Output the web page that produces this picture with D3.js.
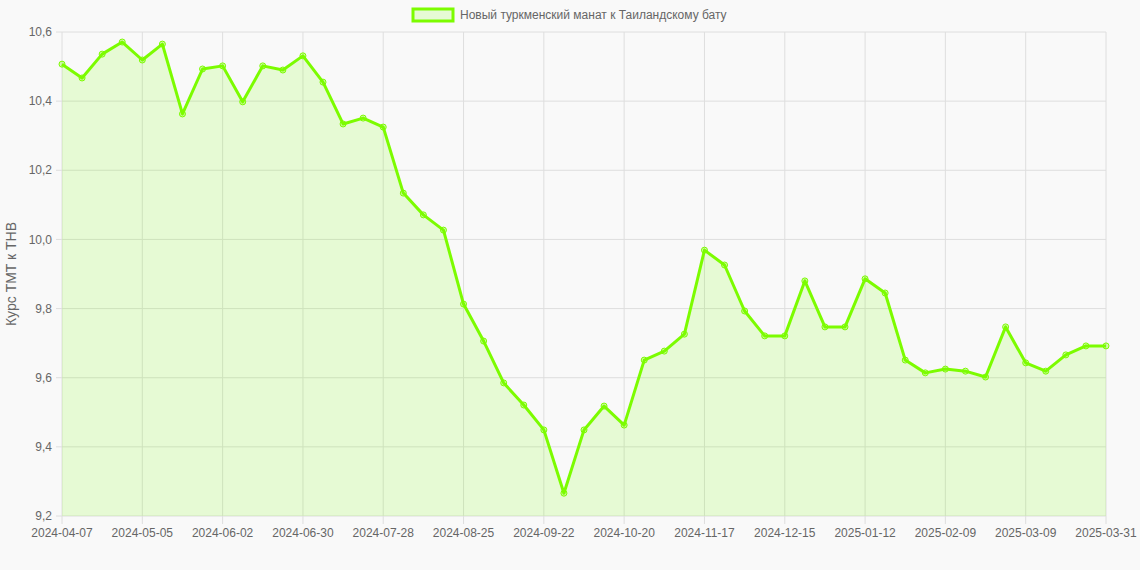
<!DOCTYPE html>
<html>
<head>
<meta charset="utf-8">
<script src="https://cdn.jsdelivr.net/npm/d3@7"></script>
<style>
  body { margin: 0; background: #f9f9f9; }
  svg { display: block; font-family: "Liberation Sans", Arial, sans-serif; }
</style>
</head>
<body>
<svg id="chart" width="1140" height="570"></svg>
<script>
"use strict";

const dates = [
  "2024-04-07", "2024-04-14", "2024-04-21", "2024-04-28",
  "2024-05-05", "2024-05-12", "2024-05-19", "2024-05-26",
  "2024-06-02", "2024-06-09", "2024-06-16", "2024-06-23", "2024-06-30",
  "2024-07-07", "2024-07-14", "2024-07-21", "2024-07-28",
  "2024-08-04", "2024-08-11", "2024-08-18", "2024-08-25",
  "2024-09-01", "2024-09-08", "2024-09-15", "2024-09-22", "2024-09-29",
  "2024-10-06", "2024-10-13", "2024-10-20", "2024-10-27",
  "2024-11-03", "2024-11-10", "2024-11-17", "2024-11-24",
  "2024-12-01", "2024-12-08", "2024-12-15", "2024-12-22", "2024-12-29",
  "2025-01-05", "2025-01-12", "2025-01-19", "2025-01-26",
  "2025-02-02", "2025-02-09", "2025-02-16", "2025-02-23",
  "2025-03-02", "2025-03-09", "2025-03-16", "2025-03-23", "2025-03-30",
  "2025-03-31"
];

const rates = [
  10.507, 10.467, 10.536, 10.571, 10.519, 10.565, 10.363, 10.493,
  10.502, 10.398, 10.502, 10.490, 10.531, 10.455, 10.334, 10.351,
  10.325, 10.134, 10.071, 10.027, 9.813, 9.706, 9.585, 9.521,
  9.449, 9.266, 9.449, 9.518, 9.463, 9.651, 9.677, 9.726,
  9.969, 9.926, 9.793, 9.721, 9.721, 9.880, 9.747, 9.747,
  9.886, 9.845, 9.651, 9.614, 9.625, 9.619, 9.602, 9.747,
  9.643, 9.619, 9.666, 9.692, 9.692
];

const yTicks = [9.2, 9.4, 9.6, 9.8, 10.0, 10.2, 10.4, 10.6];
const seriesName = "Новый туркменский манат к Таиландскому бату";
const yTitle = "Курс TMT к THB";

const data = dates.map((d, i) => ({ date: d, rate: rates[i] }));

const plot = { left: 62, right: 1106, top: 32, bottom: 516 };
const lineColor = "#7cfc00";
const gridColor = "#dedede";
const textColor = "#666";

const svg = d3.select("#chart");

const x = d3.scalePoint().domain(dates).range([plot.left, plot.right]);
const y = d3.scaleLinear().domain([9.2, 10.6]).range([plot.bottom, plot.top]);

// every 4th label plus the last one
const shownDates = dates.filter((d, i) => i % 4 === 0 || i === dates.length - 1);
const fmt = v => d3.format(".1f")(v).replace(".", ",");

// horizontal grid
svg.append("g")
  .selectAll("line")
  .data(yTicks)
  .enter().append("line")
  .attr("x1", plot.left - 6).attr("x2", plot.right)
  .attr("y1", d => y(d)).attr("y2", d => y(d))
  .attr("stroke", gridColor).attr("stroke-width", 1);

// vertical grid
svg.append("g")
  .selectAll("line")
  .data(shownDates)
  .enter().append("line")
  .attr("x1", d => x(d)).attr("x2", d => x(d))
  .attr("y1", plot.top).attr("y2", plot.bottom + 8)
  .attr("stroke", gridColor).attr("stroke-width", 1);

// y axis labels
svg.append("g")
  .selectAll("text")
  .data(yTicks)
  .enter().append("text")
  .attr("x", plot.left - 10)
  .attr("y", d => y(d))
  .attr("dy", "0.35em")
  .attr("text-anchor", "end")
  .attr("font-size", 12)
  .attr("fill", textColor)
  .text(fmt);

// x axis labels
svg.append("g")
  .selectAll("text")
  .data(shownDates)
  .enter().append("text")
  .attr("x", d => x(d))
  .attr("y", plot.bottom + 21)
  .attr("text-anchor", "middle")
  .attr("font-size", 12)
  .attr("fill", textColor)
  .text(d => d);

// y title
svg.append("text")
  .attr("transform", `translate(16,${(plot.top + plot.bottom) / 2}) rotate(-90)`)
  .attr("text-anchor", "middle")
  .attr("font-size", 14)
  .attr("fill", textColor)
  .text(yTitle);

// area fill
const area = d3.area()
  .x(d => x(d.date))
  .y0(plot.bottom)
  .y1(d => y(d.rate));

svg.append("path")
  .datum(data)
  .attr("d", area)
  .attr("fill", "rgba(124,252,0,0.15)");

// line
const line = d3.line()
  .x(d => x(d.date))
  .y(d => y(d.rate));

svg.append("path")
  .datum(data)
  .attr("d", line)
  .attr("fill", "none")
  .attr("stroke", lineColor)
  .attr("stroke-width", 3)
  .attr("stroke-linejoin", "round");

// points
svg.append("g")
  .selectAll("circle")
  .data(data)
  .enter().append("circle")
  .attr("cx", d => x(d.date))
  .attr("cy", d => y(d.rate))
  .attr("r", 3)
  .attr("fill", "rgba(124,252,0,0.3)")
  .attr("stroke", lineColor)
  .attr("stroke-width", 1);

// legend
const legend = svg.append("g");
legend.append("rect")
  .attr("x", 413).attr("y", 9)
  .attr("width", 40).attr("height", 12)
  .attr("fill", "rgba(124,252,0,0.15)")
  .attr("stroke", lineColor)
  .attr("stroke-width", 3);
legend.append("text")
  .attr("x", 460).attr("y", 15)
  .attr("dy", "0.35em")
  .attr("font-size", 12)
  .attr("fill", textColor)
  .text(seriesName);
</script>
</body>
</html>
